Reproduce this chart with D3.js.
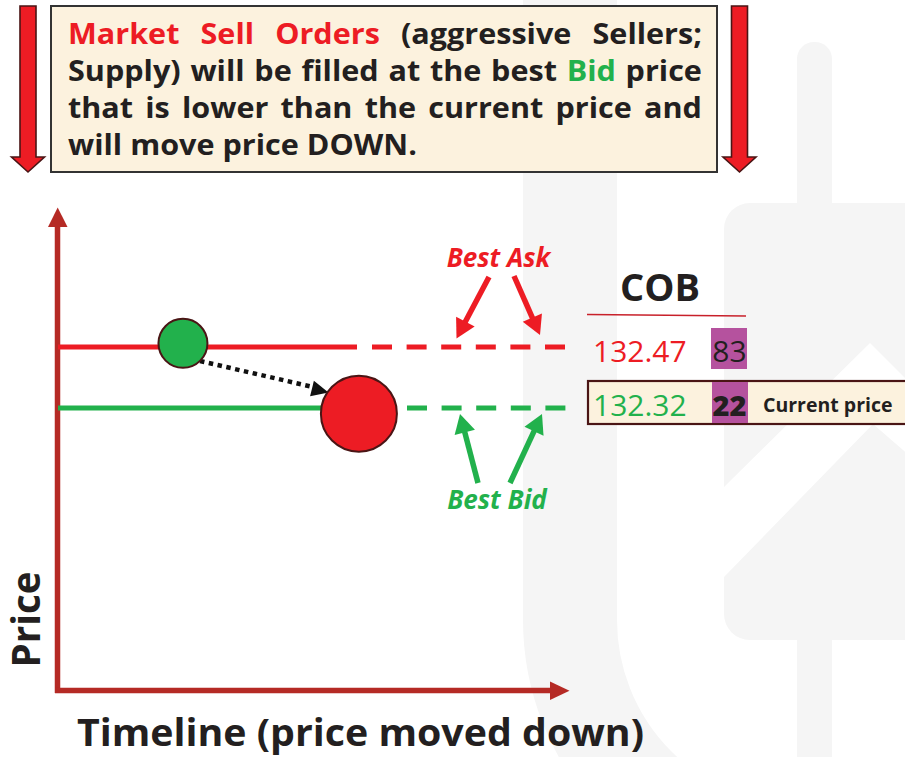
<!DOCTYPE html>
<html>
<head>
<meta charset="utf-8">
<script src="https://cdn.jsdelivr.net/npm/d3@7/dist/d3.min.js"></script>
<style>
  html, body { margin: 0; padding: 0; background: #ffffff; }
  svg { display: block; }
  text { font-family: "Open Sans", "Noto Sans", sans-serif; }
</style>
</head>
<body>
<svg id="chart" width="905" height="757"></svg>
<script>
// ---------------- DATA ----------------
const levelNames   = ["Best Ask", "Best Bid"];
const levelPrices  = [132.47, 132.32];
const levelSizes   = [83, 22];
const priceLabels  = ["132.47", "132.32"];
const currentLabel = "Current price";
const bookTitle    = "COB";
// order events on the timeline (time units, fill price)
const eventTimes   = [2.45, 5.9];
const eventPrices  = [132.479, 132.306];
const eventKinds   = ["buy", "sell"];
const timeDomain   = [0, 10];
const axisTitleX   = "Timeline (price moved down)";
const axisTitleY   = "Price";
const headerLines = [
  [["Market","r"],["Sell","r"],["Orders","r"],["(aggressive","k"],["Sellers;","k"]],
  [["Supply)","k"],["will","k"],["be","k"],["filled","k"],["at","k"],["the","k"],["best","k"],["Bid","g"],["price","k"]],
  [["that","k"],["is","k"],["lower","k"],["than","k"],["the","k"],["current","k"],["price","k"],["and","k"]],
  [["will","k"],["move","k"],["price","k"],["DOWN.","k"]]
];
const headerJustify = [true, true, true, false];

// ---------------- STYLE ----------------
const C = {
  red: "#ed1c24", green: "#22b14c", dark: "#231f20", axis: "#b52a25",
  cream: "#fcf2de", purple: "#b5529e", border: "#4a1515", wm: "#f5f5f5"
};

const svg = d3.select("#chart");

// ---------------- WATERMARK ----------------
const wm = svg.append("g");
wm.append("path")
  .attr("d", "M570,-20 L570,620 A233,233 0 0 0 803,853")
  .attr("fill", "none").attr("stroke", C.wm).attr("stroke-width", 94);
wm.append("rect").attr("x", 797).attr("y", 42).attr("width", 35).attr("height", 760)
  .attr("rx", 17).attr("fill", C.wm);
wm.append("rect").attr("x", 724).attr("y", 203).attr("width", 220).attr("height", 437)
  .attr("rx", 26).attr("fill", C.wm);
wm.append("polygon")
  .attr("points", "724,487 870,343 910,383 910,456 873,424 724,577")
  .attr("fill", "#ffffff");

// ---------------- HEADER ----------------
const measurer = svg.append("text").attr("font-weight", 700).attr("font-size", 28)
  .attr("x", -1000).attr("y", -1000);
function tw(s) { measurer.text(s); return measurer.node().getComputedTextLength(); }
const spaceW = tw("a a") - tw("aa");

function downArrow(cx, top, shaftW, headStart, headW, tip) {
  const p = [
    [cx - shaftW/2, top], [cx + shaftW/2, top], [cx + shaftW/2, headStart],
    [cx + headW/2, headStart], [cx, tip], [cx - headW/2, headStart], [cx - shaftW/2, headStart]
  ];
  svg.append("polygon").attr("points", p.map(d => d.join(",")).join(" "))
    .attr("fill", C.red).attr("stroke", "#4a1515").attr("stroke-width", 1.6)
    .attr("stroke-linejoin", "miter");
}
downArrow(28, 6, 16, 157, 33, 172);
downArrow(739.5, 6, 16, 157, 33, 172);

svg.append("rect").attr("x", 51).attr("y", 6).attr("width", 666).attr("height", 166)
  .attr("fill", C.cream).attr("stroke", "#333333").attr("stroke-width", 2);

const line4Nat = d3.sum(headerLines[3], w => tw(w[0])) + spaceW * (headerLines[3].length - 1);
const kx = 349 / line4Nat;
const lineW = 634 / kx;
const baselines = [43.5, 81, 118, 155];
const colorOf = { r: C.red, g: C.green, k: C.dark };
headerLines.forEach((words, i) => {
  const widths = words.map(w => tw(w[0]));
  const sumW = d3.sum(widths);
  const gap = headerJustify[i] ? (lineW - sumW) / (words.length - 1) : spaceW;
  const g = svg.append("g").attr("transform", `translate(68,${baselines[i]}) scale(${kx},1)`);
  let x = 0;
  words.forEach((w, j) => {
    g.append("text").attr("x", x).attr("y", 0)
      .attr("font-size", 28).attr("font-weight", 700)
      .attr("fill", colorOf[w[1]]).text(w[0]);
    x += widths[j] + gap;
  });
});
measurer.remove();

// ---------------- SCALES ----------------
const x = d3.scaleLinear().domain(timeDomain).range([58, 568]);
const y = d3.scaleLinear().domain([levelPrices[1], levelPrices[0]]).range([408, 347]);

// ---------------- AXES ----------------
const yBottom = 690.5;
svg.append("line").attr("x1", 57.5).attr("x2", 57.5).attr("y1", yBottom + 2.5).attr("y2", 224)
  .attr("stroke", C.axis).attr("stroke-width", 5.5);
svg.append("polygon").attr("points", "48,227 67.5,227 57.7,207.5").attr("fill", C.axis);
svg.append("line").attr("x1", 55).attr("x2", 552).attr("y1", yBottom).attr("y2", yBottom)
  .attr("stroke", C.axis).attr("stroke-width", 5.5);
svg.append("polygon").attr("points", "550,681.5 550,700 569.5,690.7").attr("fill", C.axis);

svg.append("text").attr("transform", "translate(40,619.5) rotate(-90)")
  .attr("text-anchor", "middle").attr("font-size", 38.5).attr("font-weight", 700)
  .attr("fill", C.dark).text(axisTitleY);
svg.append("text").attr("x", 77).attr("y", 745.5)
  .attr("font-size", 38).attr("font-weight", 700).attr("fill", C.dark)
  .attr("textLength", 567).attr("lengthAdjust", "spacingAndGlyphs")
  .text(axisTitleX);

// ---------------- PRICE LEVEL LINES ----------------
const levelColors = [C.red, C.green];
const solidEnd = [357, 330];
levelPrices.forEach((p, i) => {
  svg.append("line").attr("x1", 58).attr("x2", solidEnd[i]).attr("y1", y(p)).attr("y2", y(p))
    .attr("stroke", levelColors[i]).attr("stroke-width", 5);
  svg.append("line").attr("x1", i === 0 ? 372 : 407).attr("x2", 567).attr("y1", y(p)).attr("y2", y(p))
    .attr("stroke", levelColors[i]).attr("stroke-width", 5)
    .attr("stroke-dasharray", "20,14.6");
});

// ---------------- DOTTED MOVE ARROW ----------------
const r = { buy: 24.5, sell: 38 };
svg.append("line").attr("x1", 200).attr("y1", 361).attr("x2", 313).attr("y2", 387)
  .attr("stroke", "#111111").attr("stroke-width", 4.5).attr("stroke-dasharray", "4.5,4.5");
(function () {
  const tip = [328.5, 392.5], ang = Math.atan2(392.5 - 361, 328.5 - 200);
  const L = 17, W = 8;
  const bx = tip[0] - L * Math.cos(ang), by = tip[1] - L * Math.sin(ang);
  const nx = -Math.sin(ang), ny = Math.cos(ang);
  svg.append("polygon").attr("points",
    `${tip[0]},${tip[1]} ${bx + nx*W},${by + ny*W} ${bx - nx*W},${by - ny*W}`)
    .attr("fill", "#111111");
})();

// ---------------- EVENT CIRCLES ----------------
svg.selectAll("circle.ev").data(eventTimes.map((t, i) => ({ t, p: eventPrices[i], k: eventKinds[i] })))
  .join("circle").attr("class", "ev")
  .attr("cx", d => x(d.t)).attr("cy", d => y(d.p)).attr("r", d => r[d.k])
  .attr("fill", d => d.k === "buy" ? C.green : C.red)
  .attr("stroke", "#4a1515").attr("stroke-width", 2);

// ---------------- BEST ASK / BEST BID CALLOUTS ----------------
function arrow(x1, y1, x2, y2, color) {
  const ang = Math.atan2(y2 - y1, x2 - x1);
  const L = 19, W = 10.5;
  const bx = x2 - L * Math.cos(ang), by = y2 - L * Math.sin(ang);
  const nx = -Math.sin(ang), ny = Math.cos(ang);
  svg.append("line").attr("x1", x1).attr("y1", y1).attr("x2", bx + Math.cos(ang)).attr("y2", by + Math.sin(ang))
    .attr("stroke", color).attr("stroke-width", 5.5);
  svg.append("polygon").attr("points",
    `${x2},${y2} ${bx + nx*W},${by + ny*W} ${bx - nx*W},${by - ny*W}`).attr("fill", color);
}
arrow(489, 277, 456.5, 338.5, C.red);
arrow(514, 276, 540, 335, C.red);
arrow(478, 483, 460, 414, C.green);
arrow(510, 483, 542, 414, C.green);

svg.append("text").attr("x", 498.5).attr("y", 266.5).attr("text-anchor", "middle")
  .attr("font-size", 26).attr("font-weight", 700).attr("font-style", "italic")
  .attr("fill", C.red).text(levelNames[0]);
svg.append("text").attr("x", 497).attr("y", 508.5).attr("text-anchor", "middle")
  .attr("font-size", 26).attr("font-weight", 700).attr("font-style", "italic")
  .attr("fill", C.green).text(levelNames[1]);

// ---------------- ORDER BOOK (COB) ----------------
svg.append("text").attr("x", 660).attr("y", 301).attr("text-anchor", "middle")
  .attr("font-size", 38).attr("font-weight", 700).attr("fill", C.dark).text(bookTitle);
svg.append("line").attr("x1", 587).attr("y1", 314.5).attr("x2", 746).attr("y2", 316)
  .attr("stroke", "#c8202a").attr("stroke-width", 1.5);

svg.append("rect").attr("x", 588).attr("y", 381).attr("width", 330).attr("height", 43)
  .attr("fill", C.cream).attr("stroke", C.border).attr("stroke-width", 2.2);

const rowBase = [362, 415.5];
const sizeBox = [[711, 328, 36, 41], [712, 382, 36, 41]];
levelPrices.forEach((p, i) => {
  svg.append("rect").attr("x", sizeBox[i][0]).attr("y", sizeBox[i][1])
    .attr("width", sizeBox[i][2]).attr("height", sizeBox[i][3]).attr("fill", C.purple);
  svg.append("text").attr("x", 593).attr("y", rowBase[i])
    .attr("font-size", 30).attr("font-weight", 400).attr("fill", levelColors[i])
    .text(priceLabels[i]);
  svg.append("text").attr("x", 729.5).attr("y", rowBase[i]).attr("text-anchor", "middle")
    .attr("font-size", i === 0 ? 30 : 29).attr("font-weight", i === 0 ? 400 : 800)
    .attr("fill", C.dark).text(levelSizes[i]);
});
svg.append("text").attr("x", 763).attr("y", 411.5)
  .attr("font-size", 19.5).attr("font-weight", 700).attr("fill", C.dark).text(currentLabel);
</script>
</body>
</html>
